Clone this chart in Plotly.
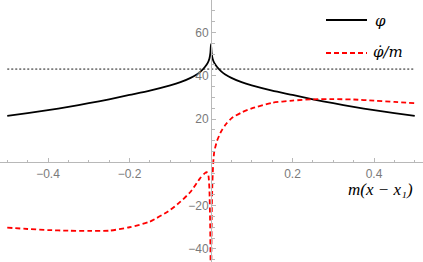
import plotly.graph_objects as go

# ---------------- data ----------------
phi_x = [-0.5, -0.45, -0.4, -0.35, -0.3, -0.25, -0.2, -0.15, -0.1, -0.075, -0.05,
         -0.035, -0.025, -0.015, -0.008, -0.004, -0.0015, 0.0,
         0.0015, 0.004, 0.008, 0.015, 0.025, 0.035, 0.05, 0.075, 0.1, 0.15,
         0.2, 0.25, 0.3, 0.35, 0.4, 0.45, 0.5]
phi_y = [21.4, 22.7, 24.1, 25.6, 27.3, 29.1, 31.1, 33.1, 35.5, 37.0, 39.0,
         40.6, 42.0, 44.0, 45.9, 47.8, 50.5, 54.6,
         50.5, 47.8, 45.9, 44.0, 42.0, 40.6, 39.0, 37.0, 35.5, 33.1,
         31.1, 29.1, 27.3, 25.6, 24.1, 22.7, 21.4]

dphi_left_x = [-0.5, -0.45, -0.4, -0.35, -0.3, -0.25, -0.2, -0.15, -0.1, -0.075,
               -0.05, -0.027, -0.015, -0.0106, -0.008, -0.006, -0.004, -0.002, -0.0005]
dphi_left_y = [-30.2, -30.8, -31.3, -31.6, -31.7, -31.6, -30.0, -27.4, -22.0, -18.2,
               -13.6, -7.4, -5.0, -4.6, -5.0, -6.5, -12.0, -30.0, -60.0]

dphi_right_x = [0.0004, 0.001, 0.002, 0.0035, 0.0056, 0.008, 0.015, 0.0245, 0.035,
                0.05, 0.075, 0.1, 0.15, 0.2, 0.25, 0.3, 0.35, 0.4, 0.45, 0.5]
dphi_right_y = [-60.0, -40.0, -22.0, -9.0, 0.0, 4.9, 10.0, 14.1, 17.2,
                20.3, 23.0, 24.9, 27.5, 28.5, 29.1, 29.2, 29.0, 28.5, 27.9, 27.3]

ref_x = [-0.5, 0.5]
ref_y = [43.0, 43.0]

x_ticks = [-0.4, -0.2, 0.2, 0.4]
x_ticklabels = ["\u22120.4", "\u22120.2", "0.2", "0.4"]
y_ticks = [-40, -20, 20, 40, 60]
y_ticklabels = ["\u221240", "\u221220", "20", "40", "60"]
x_minor = [-0.5, -0.45, -0.35, -0.3, -0.25, -0.15, -0.1, -0.05, 0.05, 0.1, 0.15,
           0.25, 0.3, 0.35, 0.45, 0.5]
y_minor = [-45, -35, -30, -25, -15, -10, -5, 5, 10, 15, 25, 30, 35, 45, 50, 55, 65, 70]

legend_labels = ["\u03c6", "\u03c6\u0307/m"]
axis_label = "m(x \u2212 x\u2081)"

# ---------------- figure ----------------
W, H = 423, 262
xr = [-211 / 407.5, (W - 211) / 407.5]
yr = [-(H - 162.3) / 2.165, 162.3 / 2.165]

RED = "#ff0000"
fig = go.Figure()
fig.add_trace(go.Scatter(x=ref_x, y=ref_y, mode="lines",
                         line=dict(color="#7a7a7a", width=1.7, dash="2px,2px"),
                         hoverinfo="skip"))
fig.add_trace(go.Scatter(x=phi_x, y=phi_y, mode="lines", line_shape="spline",
                         line=dict(color="black", width=1.8, smoothing=0.6),
                         name=legend_labels[0]))
fig.add_trace(go.Scatter(x=dphi_left_x, y=dphi_left_y, mode="lines", line_shape="spline",
                         line=dict(color=RED, width=1.8, dash="5px,3px", smoothing=0.6),
                         name="dphi"))
fig.add_trace(go.Scatter(x=dphi_right_x, y=dphi_right_y, mode="lines", line_shape="spline",
                         line=dict(color=RED, width=1.8, dash="5px,3px", smoothing=0.6),
                         name="dphi"))

axcolor = "#b8b8b8"
tickfont = dict(family="Liberation Sans, Arial", size=12, color="#7a7a7a")
fig.update_layout(
    width=W, height=H,
    margin=dict(l=0, r=0, t=0, b=0),
    paper_bgcolor="white", plot_bgcolor="white",
    showlegend=False,
    xaxis=dict(range=xr, anchor="free", position=(0 - yr[0]) / (yr[1] - yr[0]),
               showgrid=False, zeroline=False, showline=True, linecolor=axcolor,
               linewidth=1, ticks="inside", ticklen=4, tickcolor=axcolor,
               tickmode="array", tickvals=x_ticks, ticktext=x_ticklabels,
               tickfont=tickfont,
               minor=dict(tickmode="array", tickvals=x_minor, ticks="inside",
                          ticklen=2.5, tickcolor=axcolor, showgrid=False)),
    yaxis=dict(range=yr, anchor="free", position=(0 - xr[0]) / (xr[1] - xr[0]),
               showgrid=False, zeroline=False, showline=True, linecolor=axcolor,
               linewidth=1, ticks="inside", ticklen=4, tickcolor=axcolor,
               tickmode="array", tickvals=y_ticks, ticktext=y_ticklabels,
               tickfont=tickfont,
               minor=dict(tickmode="array", tickvals=y_minor, ticks="inside",
                          ticklen=2.5, tickcolor=axcolor, showgrid=False)),
)

mathfont = dict(family="Liberation Serif", size=17, color="black", style="italic")
legfont = dict(family="DejaVu Serif", size=15, color="black", style="italic")

# axis label
fig.add_annotation(x=0.5, y=0, xref="x", yref="y", xanchor="right", yanchor="top",
                   yshift=-16, xshift=0, text=axis_label, showarrow=False,
                   font=mathfont)

# manual legend
def px(x):
    return x / W

def py(y):
    return 1 - y / H

fig.add_shape(type="line", xref="paper", yref="paper", x0=px(326), x1=px(367),
              y0=py(20), y1=py(20), line=dict(color="black", width=1.8))
fig.add_shape(type="line", xref="paper", yref="paper", x0=px(326), x1=px(367),
              y0=py(53), y1=py(53), line=dict(color=RED, width=1.8, dash="5px,3px"))
fig.add_annotation(x=px(373), y=py(21), xref="paper", yref="paper", xanchor="left",
                   yanchor="middle", text=legend_labels[0], showarrow=False,
                   font=legfont)
fig.add_annotation(x=px(371), y=py(52), xref="paper", yref="paper", xanchor="left",
                   yanchor="middle", text=legend_labels[1], showarrow=False,
                   font=legfont)

fig.write_html("out.html", config={"displayModeBar": False},
               post_script="document.body.style.margin='0';")
